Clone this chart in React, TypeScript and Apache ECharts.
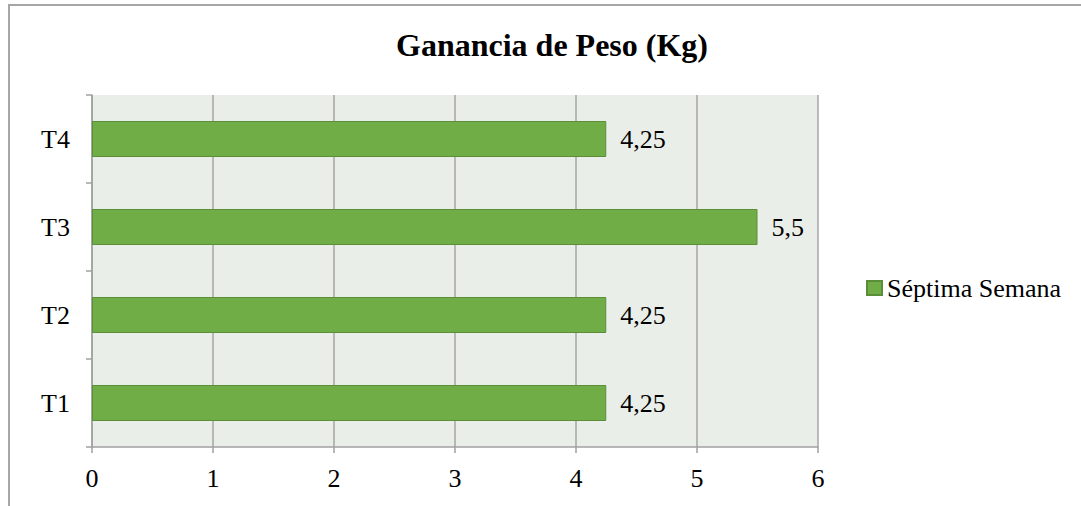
import React, { useEffect, useRef } from "react";
import * as echarts from "echarts";

const categories = ["T1", "T2", "T3", "T4"];
const values = [4.25, 4.25, 5.5, 4.25];
const seriesName = "Séptima Semana";
const titleText = "Ganancia de Peso (Kg)";
const xTicks = [0, 1, 2, 3, 4, 5, 6];

const FONT = "Times New Roman, Liberation Serif, serif";

export default function App() {
  const ref = useRef<HTMLDivElement>(null);
  useEffect(() => {
    if (!ref.current) return;
    const chart = echarts.init(ref.current, undefined, { renderer: "svg" });
    chart.setOption({
      animation: false,
      backgroundColor: "#ffffff",
      textStyle: { fontFamily: FONT },
      title: {
        text: titleText,
        left: 552,
        top: 45,
        padding: 0,
        textAlign: "center",
        textVerticalAlign: "middle",
        textStyle: { fontFamily: FONT, fontSize: 32, fontWeight: "bold", color: "#000" },
      },
      graphic: [
        {
          type: "rect",
          shape: { x: 9, y: 5, width: 1200, height: 700 },
          style: { fill: "none", stroke: "#A6A6A6", lineWidth: 2 },
          silent: true,
          z: 100,
        },
      ],
      legend: {
        left: 866,
        top: 275,
        padding: 0,
        icon: "rect",
        itemWidth: 15,
        itemHeight: 14,
        textStyle: { fontFamily: FONT, fontSize: 26, color: "#000" },
        data: [seriesName],
      },
      grid: {
        left: 92,
        top: 95,
        width: 726,
        height: 352,
        show: true,
        backgroundColor: "#EAEEE8",
        borderWidth: 0,
      },
      xAxis: {
        type: "value",
        min: xTicks[0],
        max: xTicks[xTicks.length - 1],
        interval: 1,
        axisLine: { show: true, lineStyle: { color: "#A0A0A0", width: 1.5 } },
        axisTick: { show: true, length: 6, lineStyle: { color: "#A0A0A0", width: 1.5 } },
        splitLine: { show: true, lineStyle: { color: "#A6A6A6", width: 1.5 } },
        axisLabel: { fontFamily: FONT, fontSize: 26, color: "#000", margin: 18 },
      },
      yAxis: {
        type: "category",
        data: categories,
        axisLine: { show: true, lineStyle: { color: "#A0A0A0", width: 1.5 } },
        axisTick: { show: true, length: 6, lineStyle: { color: "#A0A0A0", width: 1.5 } },
        axisLabel: { fontFamily: FONT, fontSize: 26, color: "#000", margin: 22 },
        splitLine: { show: false },
      },
      series: [
        {
          name: seriesName,
          type: "bar",
          data: values,
          barWidth: 36,
          itemStyle: { color: "#70AD47", borderColor: "#5A8F38", borderWidth: 1 },
          label: {
            show: true,
            position: "right",
            distance: 14,
            fontFamily: FONT,
            fontSize: 26,
            color: "#000",
            formatter: (p: any) => String(p.value).replace(".", ","),
          },
        },
      ],
    });
    return () => chart.dispose();
  }, []);
  return (
    <div
      ref={ref}
      style={{ position: "absolute", left: 0, top: 0, width: 1081, height: 506 }}
    />
  );
}
